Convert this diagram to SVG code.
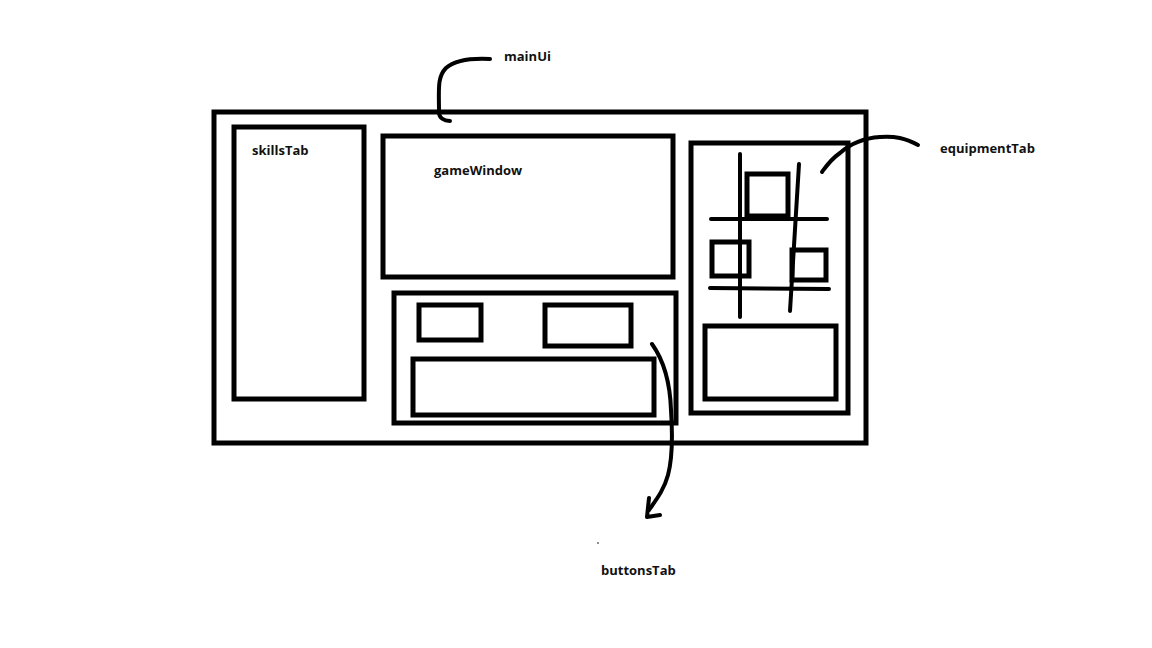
<svg xmlns="http://www.w3.org/2000/svg" width="1152" height="648" viewBox="0 0 1152 648">
<style>
.box{fill:none;stroke:#000;stroke-width:5}
.ln{fill:none;stroke:#000;stroke-width:4;stroke-linecap:round;stroke-linejoin:round}
.lbl{font-family:"Open Sans","Liberation Sans",sans-serif;font-weight:bold;font-size:13px;fill:#111}
</style>
<rect width="1152" height="648" fill="#fff"/>
<g id="mainUi"><rect class="box" x="214" y="112" width="652" height="331"/><text class="lbl" x="504" y="61">mainUi</text></g>
<g id="skillsTab"><rect class="box" x="234" y="127" width="130" height="272"/><text class="lbl" x="252" y="155">skillsTab</text></g>
<g id="gameWindow"><rect class="box" x="383" y="136" width="290" height="141"/><text class="lbl" x="434" y="175">gameWindow</text></g>
<g id="buttonsTab">
<rect class="box" x="394" y="293" width="282" height="130"/>
<rect class="box" x="419" y="305" width="62" height="35"/>
<rect class="box" x="545" y="305" width="86" height="41"/>
<rect class="box" x="413" y="359" width="241" height="56"/>
<text class="lbl" x="601" y="575">buttonsTab</text>
</g>
<g id="equipmentTab">
<rect class="box" x="691" y="143" width="157" height="270"/>
<rect class="box" x="747" y="174" width="41" height="42"/>
<rect class="box" x="712" y="242" width="37" height="34"/>
<rect class="box" x="792" y="250" width="34" height="30"/>
<rect class="box" x="705" y="326" width="131" height="73"/>
<line class="ln" x1="740" y1="154" x2="740" y2="317"/>
<line class="ln" x1="799" y1="164" x2="790" y2="311"/>
<line class="ln" x1="711" y1="219" x2="827" y2="219"/>
<line class="ln" x1="710" y1="288" x2="829" y2="289"/>
<text class="lbl" x="940" y="153">equipmentTab</text>
</g>
<g id="connectors">
<path class="ln" d="M490,59 C470,58 455,60 446,68 C437,77 439,90 439,112 C439,118 444,121 450,121"/>
<path class="ln" d="M918,145 C905,138 895,136 880,137 C865,138 850,144 840,153 C830,160 825,168 822,172"/>
<path class="ln" d="M652,344 C662,358 670,380 671,410 C673,440 672,460 668,475 C664,490 656,500 649,510"/>
<path class="ln" d="M649,498 L647,517 L660,515"/>
<circle cx="598" cy="543" r="0.8" fill="#000"/>
</g>
</svg>
